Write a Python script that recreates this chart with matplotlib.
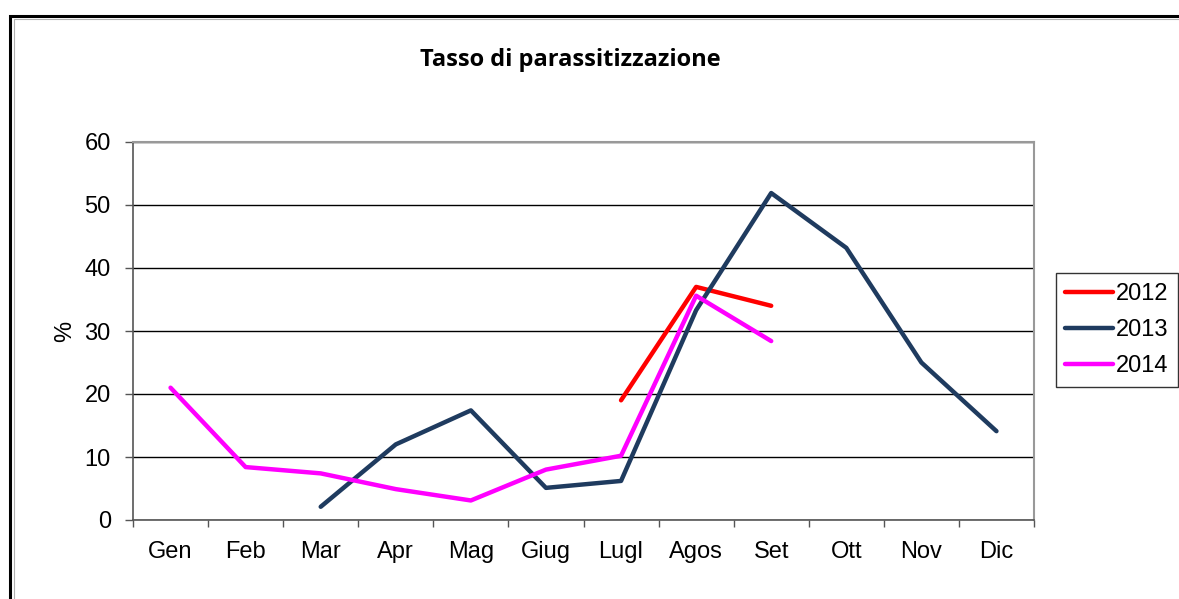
import numpy as np
import matplotlib.pyplot as plt
from matplotlib.patches import Rectangle

months = ['Gen', 'Feb', 'Mar', 'Apr', 'Mag', 'Giug', 'Lugl', 'Agos', 'Set', 'Ott', 'Nov', 'Dic']
nan = np.nan
v2012 = [nan, nan, nan, nan, nan, nan, 19.0, 37.0, 34.0, nan, nan, nan]
v2013 = [nan, nan, 2.1, 12.0, 17.4, 5.1, 6.2, 33.3, 51.9, 43.2, 25.0, 14.1]
v2014 = [21.0, 8.4, 7.4, 4.9, 3.1, 8.0, 10.2, 35.6, 28.4, nan, nan, nan]

plt.rcParams['font.family'] = ['Liberation Sans', 'DejaVu Sans']

fig = plt.figure(figsize=(11.79, 5.99), dpi=100)
ax = fig.add_axes([133 / 1179, 79 / 599, 901 / 1179, 378 / 599])

# outer chart border (cropped at right and bottom)
fig.patches.append(Rectangle((10 / 1179, -0.1), 1.2, (599 - 16) / 599 + 0.1,
                             transform=fig.transFigure, fill=False,
                             edgecolor='black', linewidth=2.2, zorder=0))
fig.patches.append(Rectangle((14 / 1179, -0.1), 1.2, (599 - 19) / 599 + 0.1,
                             transform=fig.transFigure, fill=False,
                             edgecolor='#b0b0b0', linewidth=0.8, zorder=0))

x = np.arange(len(months))
ax.plot(x, v2012, color='#ff0000', lw=3.2, solid_capstyle='round', label='2012', zorder=3)
ax.plot(x, v2013, color='#1f3b5f', lw=3.2, solid_capstyle='round', label='2013', zorder=3)
ax.plot(x, v2014, color='#ff00ff', lw=3.2, solid_capstyle='round', label='2014', zorder=3)

ax.set_xlim(-0.5, 11.5)
ax.set_ylim(0, 60)
ax.set_yticks(range(0, 61, 10))
ax.yaxis.grid(True, color='black', lw=1)
ax.set_axisbelow(True)

ax.set_xticks(np.arange(-0.5, 12, 1))
ax.set_xticklabels([])
ax.set_xticks(x, minor=True)
ax.set_xticklabels(months, minor=True)
ax.tick_params(axis='x', which='major', length=5, width=1, color='#555555', direction='out')
ax.tick_params(axis='x', which='minor', length=0, pad=15, labelsize=17)
ax.tick_params(axis='y', length=6, width=1, color='#555555', labelsize=17, pad=10)

for s in ['left', 'bottom']:
    ax.spines[s].set_color('#555555')
    ax.spines[s].set_linewidth(1.2)
for s in ['top', 'right']:
    ax.spines[s].set_color('#999999')
    ax.spines[s].set_linewidth(1.5)

ax.set_ylabel('%', fontsize=17, labelpad=6)

fig.text(570 / 1179, 1 - 60 / 599, 'Tasso di parassitizzazione', ha='center', va='center',
         fontsize=17, fontweight='bold', family=['Open Sans', 'DejaVu Sans'])

leg = ax.legend(loc='center left', bbox_to_anchor=(1056 / 1179, 1 - 330 / 599),
                bbox_transform=fig.transFigure, fontsize=17, frameon=True,
                fancybox=False, edgecolor='black', handlelength=2.0, handletextpad=0.15,
                borderpad=0.4, labelspacing=0.6, borderaxespad=0)
leg.get_frame().set_linewidth(1)

fig.savefig('out.png', dpi=100)
